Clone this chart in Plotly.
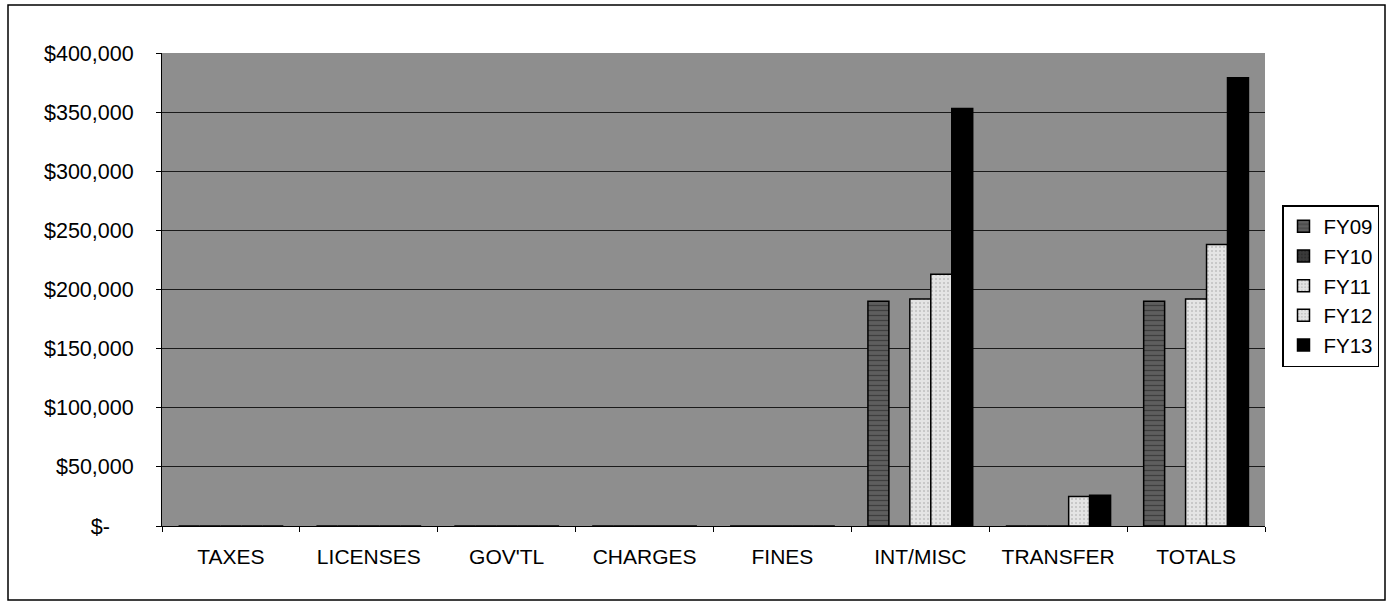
import plotly.graph_objects as go

categories = ["TAXES", "LICENSES", "GOV'TL", "CHARGES", "FINES", "INT/MISC", "TRANSFER", "TOTALS"]
series_names = ["FY09", "FY10", "FY11", "FY12", "FY13"]
fy09 = [0, 0, 0, 0, 0, 190000, 0, 190000]
fy10 = [0, 0, 0, 0, 0, 0, 0, 0]
fy11 = [0, 0, 0, 0, 0, 192000, 0, 192000]
fy12 = [0, 0, 0, 0, 0, 213000, 25000, 238000]
fy13 = [0, 0, 0, 0, 0, 353000, 26000, 379000]
y_ticks = [0, 50000, 100000, 150000, 200000, 250000, 300000, 350000, 400000]
y_tick_labels = ["$-\u00a0\u00a0\u00a0\u00a0", "$50,000", "$100,000", "$150,000", "$200,000",
                 "$250,000", "$300,000", "$350,000", "$400,000"]

values = [fy09, fy10, fy11, fy12, fy13]
fills = ["#5e5e5e", "#3a3a3a", "#e4e4e4", "#e4e4e4", "#000000"]
patterns = [dict(shape="-", fgcolor="#1e1e1e", size=5, solidity=0.25),
            dict(shape=".", fgcolor="#222222", size=4, solidity=0.3),
            dict(shape=".", fgcolor="#9a9a9a", size=4, solidity=0.2),
            dict(shape=".", fgcolor="#9a9a9a", size=4, solidity=0.2),
            dict(shape="")]

fig = go.Figure()
for name, vals, col, pat in zip(series_names, values, fills, patterns):
    fig.add_trace(go.Bar(
        name=name, x=categories, y=vals,
        marker=dict(color=col, line=dict(color="#000000", width=1.5), pattern=pat),
    ))

L, R, T, B = 162, 1265, 53, 526
W, H = 1390, 602
pw = R - L
ph = B - T

fig.update_layout(
    width=W, height=H,
    margin=dict(l=L, r=W - R, t=T, b=H - B, autoexpand=False),
    barmode="group", bargap=0.24, bargroupgap=0,
    paper_bgcolor="white", plot_bgcolor="#8e8e8e",
    font=dict(family="Liberation Sans, Arial, sans-serif", size=21, color="black"),
    showlegend=True,
    legend=dict(x=(1282 - L) / pw, y=(B - 205) / ph, xanchor="left", yanchor="top",
                bgcolor="white", bordercolor="black", borderwidth=1.5,
                font=dict(size=20.5), itemwidth=30, tracegroupgap=4),
    xaxis=dict(type="category", showline=True, linecolor="black", linewidth=1,
               ticks="outside", tickson="boundaries", ticklen=5, tickcolor="black",
               showgrid=False, tickfont=dict(size=21), ticklabelstandoff=12),
    yaxis=dict(range=[0, 400000], tickvals=y_ticks, ticktext=y_tick_labels,
               showline=True, linecolor="black", linewidth=1,
               ticks="outside", ticklen=5, tickcolor="black",
               showgrid=True, gridcolor="#1a1a1a", gridwidth=1,
               tickfont=dict(size=21.5), ticklabelstandoff=18, zeroline=False),
    shapes=[dict(type="rect", xref="paper", yref="paper",
                 x0=(8 - L) / pw, x1=(1385 - L) / pw,
                 y0=(B - 600) / ph, y1=(B - 5) / ph,
                 line=dict(color="black", width=1.5), fillcolor="rgba(0,0,0,0)",
                 layer="below")],
)

fig.write_html("out.html")
